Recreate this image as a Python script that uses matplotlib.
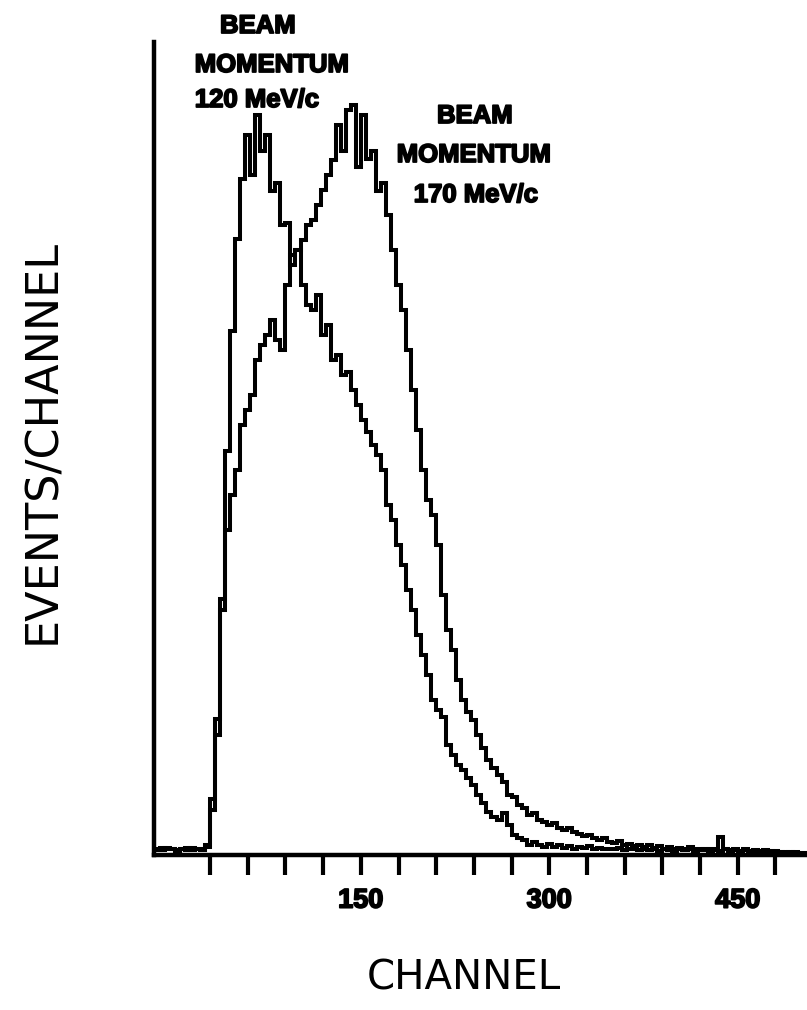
import numpy as np
import matplotlib
matplotlib.use("Agg")
import matplotlib.pyplot as plt
import matplotlib.patheffects as pe

# Pulse-height spectra, events per 4-channel bin starting at channel -14
BIN_START = -14
BIN_WIDTH = 4

events_120 = [
    8, 6, 9, 7, 5, 8, 6, 9, 7, 6,
    12, 70, 170, 320, 505, 655, 770, 845, 900, 850,
    925, 880, 900, 830, 840, 787, 790, 737, 756, 712,
    687, 681, 700, 650, 662, 619, 625, 600, 604, 581,
    562, 544, 529, 512, 500, 481, 437, 419, 387, 362,
    331, 306, 275, 250, 225, 194, 181, 172, 137, 125,
    112, 106, 96, 87, 75, 65, 54, 47, 44, 52,
    37, 25, 21, 19, 12, 16, 12, 10, 14, 10,
    12, 9, 11, 8, 10, 9, 11, 8, 9, 7,
    8, 7, 9, 6, 8, 7, 6, 8, 6, 7,
    5, 7, 6, 5, 7, 6, 8, 5, 6, 7,
    5, 6, 5, 7, 5, 6, 4, 6, 5, 4,
    5, 4, 5, 3, 4, 3, 4, 3, 3, 3,
]

events_170 = [
    6, 9, 7, 8, 6, 7, 9, 6, 8, 7,
    10, 56, 150, 306, 406, 450, 481, 537, 556, 575,
    619, 637, 650, 669, 644, 631, 712, 750, 756, 769,
    787, 794, 812, 831, 850, 869, 912, 880, 931, 937,
    860, 925, 870, 880, 830, 840, 800, 756, 712, 681,
    631, 581, 531, 481, 444, 425, 387, 325, 281, 256,
    219, 194, 179, 169, 150, 134, 119, 109, 100, 91,
    75, 72, 62, 59, 50, 52, 44, 41, 37, 40,
    34, 31, 34, 29, 26, 24, 25, 21, 19, 21,
    16, 15, 17, 12, 14, 11, 13, 10, 12, 9,
    11, 8, 10, 7, 9, 8, 10, 7, 8, 6,
    8, 7, 22, 7, 6, 8, 5, 7, 5, 6,
    4, 6, 4, 5, 3, 4, 3, 4, 3, 3,
]

tick_channels = list(range(30, 481, 30))
labelled_channels = [150, 300, 450]

annotation_120 = ["BEAM", "MOMENTUM", "120 MeV/c"]
annotation_170 = ["BEAM", "MOMENTUM", "170 MeV/c"]

W, H = 807, 1010
fig = plt.figure(figsize=(W / 100, H / 100), dpi=100)


def fx(x):
    return x / W


def fy(y):
    return 1 - y / H


heavy = [pe.withStroke(linewidth=1.3, foreground="black")]

# axes frame: left spine at x=154 px, baseline at y=855 px, runs past right edge
ax = fig.add_axes([fx(154), fy(855), (830 - 154) / W, (855 - 42) / H])
ax.set_xlim(-14.6, 523.4)
ax.set_ylim(0, 1016)

for vals in (events_120, events_170):
    edges = BIN_START + BIN_WIDTH * np.arange(len(vals) + 1)
    ax.stairs(vals, edges, baseline=None, color="black", linewidth=2.9,
              joinstyle="miter")

for side in ("top", "right"):
    ax.spines[side].set_visible(False)
for side in ("left", "bottom"):
    ax.spines[side].set_linewidth(3.2)
    ax.spines[side].set_color("black")

ax.set_yticks([])
ax.set_xticks(tick_channels)
ax.set_xticklabels([str(c) if c in labelled_channels else "" for c in tick_channels])
ax.tick_params(axis="x", direction="out", length=14.5, width=3.0, pad=9,
               labelsize=19.5, color="black")
for lab in ax.get_xticklabels():
    lab.set_fontfamily("Liberation Sans")
    lab.set_fontweight("bold")
    lab.set_path_effects(heavy)

# curve annotations
ann_font = dict(family="Liberation Sans", weight="bold", fontsize=18.5,
                ha="center", va="baseline", color="black")
for text, (x, y) in zip(annotation_120, [(258, 33), (272, 72), (257, 107)]):
    fig.text(fx(x), fy(y), text, path_effects=heavy, **ann_font)
for text, (x, y) in zip(annotation_170, [(475, 123), (474, 162), (476, 202)]):
    fig.text(fx(x), fy(y), text, path_effects=heavy, **ann_font)

# axis titles
fig.text(fx(464), fy(990), "CHANNEL", family="DejaVu Sans", fontsize=29,
         ha="center", va="baseline", color="black")
fig.text(fx(43), fy(442), "EVENTS/CHANNEL", family="DejaVu Sans", fontsize=32,
         rotation=90, ha="center", va="center", color="black")

fig.savefig("out.png", dpi=100, facecolor="white")
